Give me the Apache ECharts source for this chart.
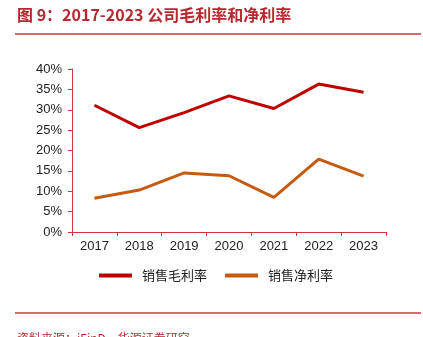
<!DOCTYPE html>
<html><head><meta charset="utf-8">
<script src="https://cdn.jsdelivr.net/npm/echarts@6/dist/echarts.min.js"></script>
<style>html,body{margin:0;padding:0;background:#fff;}#c{width:423px;height:337px;}</style>
</head><body><div id="c"></div>
<script>
const categories = ['2017','2018','2019','2020','2021','2022','2023'];
const grossMargin = [31.1, 25.6, 29.3, 33.4, 30.3, 36.3, 34.3];
const netMargin = [8.3, 10.3, 14.5, 13.8, 8.5, 17.9, 13.7];
const seriesNames = ['销售毛利率', '销售净利率'];
const titleText = '图 9：2017-2023 公司毛利率和净利率';
const sourceText = '资料来源：iFinD，华源证券研究';

const chart = echarts.init(document.getElementById('c'));
chart.setOption({
  animation: false,
  graphic: [
    {type:'text', left:17, top:7, style:{text:titleText, fill:'#b8282f', font:'bold 16px "Noto Sans CJK SC", sans-serif'}},
    {type:'line', shape:{x1:15,y1:34,x2:421,y2:34}, style:{stroke:'#c9383f', lineWidth:1.5}},
    {type:'line', shape:{x1:15,y1:313,x2:421,y2:313}, style:{stroke:'#c9383f', lineWidth:1.5}},
    {type:'text', left:17, top:332, style:{text:sourceText, fill:'#b8282f', font:'12px "Noto Sans CJK SC", sans-serif'}}
  ],
  legend: {
    top: 264, left: 94, itemGap: 18, itemWidth: 33, itemHeight: 4,
    icon: 'rect',
    textStyle: {fontSize: 13, color: '#222', padding: [0,0,0,5], fontFamily: '"Noto Sans CJK SC", sans-serif'},
    data: seriesNames
  },
  grid: {left: 72, right: 37, top: 69, bottom: 105, containLabel: false},
  xAxis: {
    type: 'category', data: categories, boundaryGap: true,
    axisLine: {lineStyle: {color: '#d0363c', width: 1}},
    axisTick: {show: true, lineStyle: {color: '#d0363c'}, length: 4},
    axisLabel: {color: '#222', fontSize: 13, margin: 8, fontFamily: 'Liberation Sans, Arial, sans-serif'}
  },
  yAxis: {
    type: 'value', min: 0, max: 40, interval: 5,
    axisLine: {show: true, lineStyle: {color: '#d0363c', width: 1}},
    axisTick: {show: true, inside: false, length: 4, lineStyle: {color: '#d0363c'}},
    splitLine: {show: false},
    axisLabel: {formatter: '{value}%', color: '#222', fontSize: 13, margin: 10, fontFamily: 'Liberation Sans, Arial, sans-serif'}
  },
  series: [
    {name: seriesNames[0], type: 'line', data: grossMargin, symbol: 'none', lineStyle: {color: '#c00000', width: 3}, itemStyle: {color: '#c00000'}},
    {name: seriesNames[1], type: 'line', data: netMargin, symbol: 'none', lineStyle: {color: '#c55a11', width: 3}, itemStyle: {color: '#c55a11'}}
  ]
});
</script></body></html>
